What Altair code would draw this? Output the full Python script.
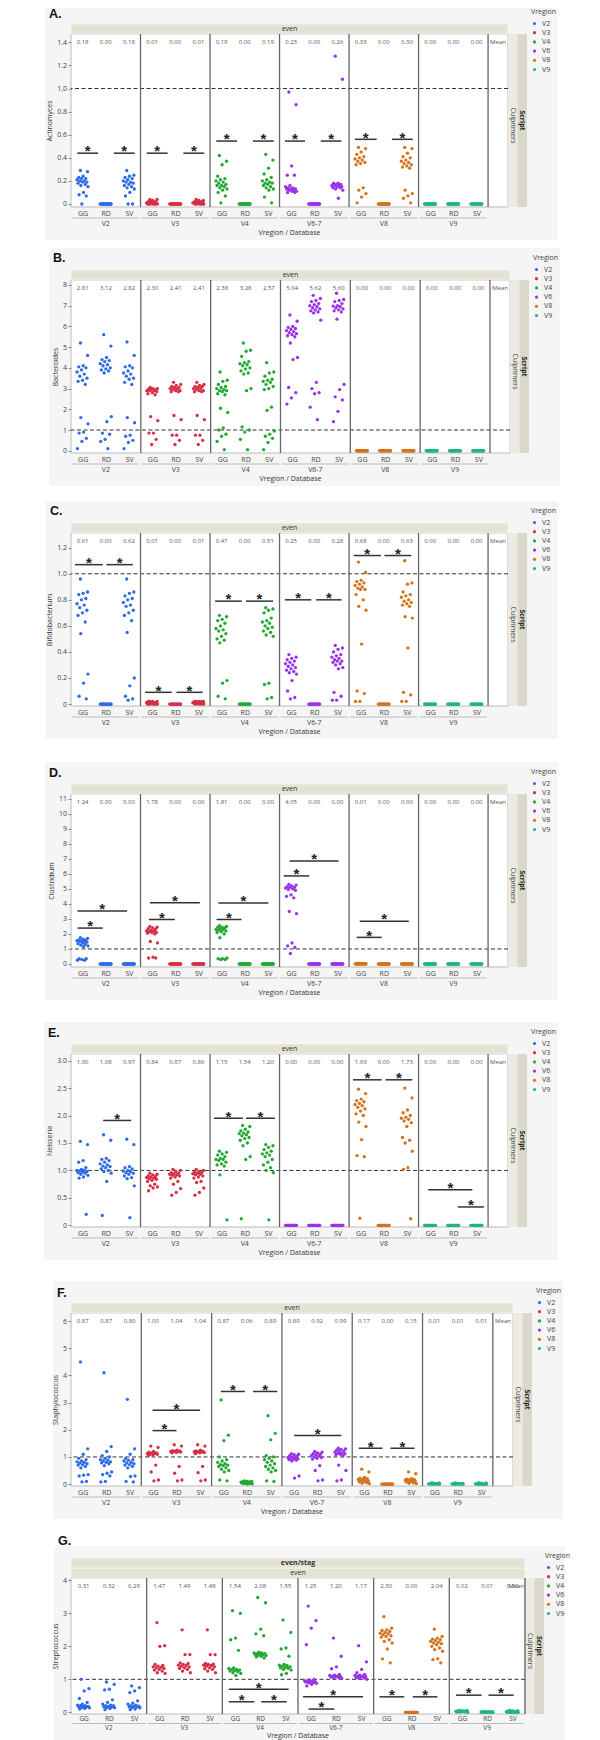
import altair as alt
import pandas as pd

FONT = "Open Sans"
DATABASES = ["GG", "RD", "SV"]
REGIONS = ["V2", "V3", "V4", "V6-7", "V8", "V9"]
LEGEND_NAMES = ["V2", "V3", "V4", "V6", "V8", "V9"]
COLORS = ["#2e6be6", "#d62f45", "#22a833", "#9a32ea", "#d4731b", "#1fb38a"]

Z = [0, 0, 0, 0, 0, 0, 0, 0, 0, 0, 0, 0, 0, 0, 0, 0, 0, 0]

# ---------------- A. Actinomyces ----------------
ACT_V2 = [[0.29, 0.28, 0.24, 0.23, 0.22, 0.22, 0.21, 0.20, 0.20, 0.19, 0.19, 0.18, 0.17, 0.16, 0.15, 0.10, 0.08, 0.07, 0.0],
          Z,
          [0.29, 0.25, 0.24, 0.23, 0.22, 0.21, 0.20, 0.19, 0.19, 0.18, 0.17, 0.16, 0.15, 0.14, 0.13, 0.10, 0.07, 0.0, 0.0]]
ACT_V3 = [[0.04, 0.04, 0.03, 0.02, 0.02, 0.02, 0.01, 0.01, 0.01, 0.01, 0.01, 0.0, 0.0, 0.0, 0.0, 0.0, 0.0, 0.0],
          Z,
          [0.04, 0.03, 0.03, 0.02, 0.02, 0.02, 0.01, 0.01, 0.01, 0.01, 0.01, 0.01, 0.0, 0.0, 0.0, 0.0, 0.0, 0.0]]
ACT_V4 = [[0.42, 0.37, 0.34, 0.24, 0.22, 0.21, 0.20, 0.19, 0.18, 0.17, 0.16, 0.16, 0.15, 0.14, 0.13, 0.12, 0.10, 0.07, 0.01],
          Z,
          [0.43, 0.38, 0.31, 0.26, 0.23, 0.21, 0.20, 0.19, 0.18, 0.18, 0.17, 0.16, 0.15, 0.14, 0.13, 0.12, 0.06, 0.01]]
ACT_V6 = [[0.97, 0.86, 0.33, 0.25, 0.25, 0.16, 0.15, 0.14, 0.14, 0.13, 0.13, 0.13, 0.12, 0.12, 0.11, 0.11, 0.10, 0.10],
          Z,
          [1.28, 1.08, 0.18, 0.18, 0.17, 0.17, 0.16, 0.16, 0.16, 0.15, 0.15, 0.14, 0.14, 0.13, 0.12, 0.05]]
ACT_V8 = [[0.49, 0.48, 0.45, 0.43, 0.41, 0.40, 0.39, 0.38, 0.37, 0.36, 0.35, 0.34, 0.14, 0.12, 0.09, 0.06, 0.01],
          Z,
          [0.49, 0.48, 0.44, 0.41, 0.40, 0.38, 0.37, 0.36, 0.35, 0.34, 0.33, 0.32, 0.31, 0.12, 0.09, 0.07, 0.05, 0.01]]
ACT_V9 = [Z, Z, Z]
ACT_MEAN = [[0.18, 0.00, 0.18], [0.01, 0.00, 0.01], [0.19, 0.00, 0.19], [0.23, 0.00, 0.26], [0.33, 0.00, 0.30], [0.00, 0.00, 0.00]]
ACT_SIG = [(0, -0.23, 0.67, 0.44), (0, 1.35, 2.25, 0.44), (1, -0.23, 0.67, 0.44), (1, 1.35, 2.25, 0.44),
           (2, -0.23, 0.67, 0.545), (2, 1.35, 2.25, 0.545), (3, -0.27, 0.60, 0.545), (3, 1.28, 2.17, 0.545),
           (4, -0.25, 0.69, 0.56), (4, 1.35, 2.25, 0.56)]

# ---------------- B. Bacteroides ----------------
BAC_V2 = [[5.2, 4.6, 4.1, 4.05, 4.0, 3.9, 3.8, 3.7, 3.6, 3.5, 3.4, 3.35, 3.2, 1.6, 1.3, 0.9, 0.85, 0.6, 0.45, 0.1],
          [5.6, 5.05, 4.5, 4.4, 4.35, 4.3, 4.2, 4.15, 4.1, 4.0, 3.95, 3.9, 3.85, 3.75, 1.65, 1.4, 0.85, 0.8, 0.55, 0.45, 0.1],
          [5.25, 4.6, 4.1, 4.05, 4.0, 3.85, 3.75, 3.7, 3.6, 3.5, 3.45, 3.3, 3.2, 1.6, 1.35, 0.75, 0.7, 0.5, 0.4, 0.1]]
BAC_V3 = [[3.05, 3.0, 3.0, 2.98, 2.95, 2.95, 2.9, 2.9, 2.9, 2.85, 2.8, 2.75, 2.7, 1.65, 1.45, 0.85, 0.85, 0.55, 0.3],
          [3.3, 3.2, 3.15, 3.1, 3.05, 3.05, 3.0, 3.0, 2.95, 2.9, 2.9, 2.85, 2.85, 1.7, 1.5, 0.75, 0.75, 0.5, 0.3],
          [3.3, 3.2, 3.15, 3.1, 3.1, 3.05, 3.0, 3.0, 2.95, 2.9, 2.9, 2.85, 2.85, 1.7, 1.5, 0.75, 0.75, 0.5, 0.3]]
BAC_V4 = [[3.8, 3.4, 3.35, 3.2, 3.1, 3.05, 3.0, 2.95, 2.9, 2.9, 2.85, 2.75, 2.7, 2.05, 1.85, 1.1, 1.0, 0.8, 0.7, 0.45, 0.05],
          [5.2, 4.85, 4.8, 4.55, 4.3, 4.25, 4.2, 4.15, 4.1, 4.0, 3.95, 3.85, 3.75, 3.7, 3.0, 2.9, 1.15, 1.0, 0.9, 0.55, 0.05],
          [4.25, 3.8, 3.75, 3.6, 3.45, 3.4, 3.35, 3.3, 3.2, 3.1, 3.0, 2.95, 2.1, 1.95, 0.95, 0.8, 0.7, 0.6, 0.4, 0.05]]
BAC_V6 = [[6.55, 6.25, 6.0, 5.95, 5.9, 5.85, 5.8, 5.75, 5.7, 5.65, 5.6, 5.55, 5.5, 5.2, 4.5, 4.4, 3.05, 2.8, 2.55, 2.25],
          [7.5, 7.35, 7.25, 7.2, 7.1, 7.05, 7.0, 6.95, 6.9, 6.85, 6.8, 6.75, 6.7, 6.65, 6.3, 3.3, 3.0, 2.8, 2.75, 2.1, 1.5],
          [7.6, 7.3, 7.25, 7.2, 7.1, 7.0, 6.98, 6.95, 6.9, 6.85, 6.8, 6.75, 6.7, 6.35, 3.2, 2.95, 2.6, 2.45, 1.9, 1.4]]
BAC_V8 = [Z, Z, Z]
BAC_V9 = [Z, Z, Z]
BAC_MEAN = [[2.81, 3.12, 2.82], [2.30, 2.41, 2.41], [2.38, 3.28, 2.57], [5.04, 5.62, 5.60], [0.00, 0.00, 0.00], [0.00, 0.00, 0.00]]
BAC_SIG = []

# ---------------- C. Bifidobacterium ----------------
BIF_V2 = [[0.96, 0.86, 0.85, 0.84, 0.81, 0.80, 0.77, 0.76, 0.74, 0.72, 0.70, 0.68, 0.63, 0.54, 0.23, 0.16, 0.06, 0.04],
          Z,
          [0.96, 0.86, 0.85, 0.83, 0.81, 0.80, 0.78, 0.76, 0.75, 0.72, 0.70, 0.68, 0.64, 0.55, 0.20, 0.14, 0.06, 0.04, 0.03]]
BIF_V3 = [[0.02, 0.02, 0.02, 0.02, 0.01, 0.01, 0.01, 0.01, 0.01, 0.01, 0.01, 0.0, 0.0, 0.0, 0.0, 0.0, 0.0, 0.0],
          Z,
          [0.02, 0.02, 0.02, 0.02, 0.02, 0.01, 0.01, 0.01, 0.01, 0.01, 0.01, 0.01, 0.0, 0.0, 0.0, 0.0, 0.0, 0.0]]
BIF_V4 = [[0.68, 0.67, 0.65, 0.64, 0.62, 0.60, 0.58, 0.57, 0.56, 0.54, 0.52, 0.50, 0.49, 0.47, 0.18, 0.16, 0.06, 0.04],
          Z,
          [0.74, 0.73, 0.72, 0.70, 0.66, 0.64, 0.63, 0.62, 0.60, 0.59, 0.58, 0.56, 0.55, 0.53, 0.52, 0.16, 0.15, 0.05, 0.04]]
BIF_V6 = [[0.38, 0.36, 0.35, 0.34, 0.33, 0.32, 0.31, 0.30, 0.29, 0.28, 0.27, 0.26, 0.25, 0.24, 0.23, 0.18, 0.10, 0.05, 0.04],
          Z,
          [0.45, 0.43, 0.42, 0.40, 0.38, 0.37, 0.36, 0.35, 0.34, 0.33, 0.33, 0.32, 0.31, 0.30, 0.28, 0.27, 0.09, 0.06, 0.03, 0.03]]
BIF_V8 = [[1.09, 1.01, 0.95, 0.94, 0.93, 0.92, 0.91, 0.90, 0.89, 0.88, 0.88, 0.84, 0.80, 0.75, 0.72, 0.46, 0.10, 0.08, 0.02, 0.02],
          Z,
          [1.10, 0.93, 0.92, 0.86, 0.84, 0.83, 0.82, 0.80, 0.79, 0.78, 0.77, 0.76, 0.75, 0.67, 0.66, 0.43, 0.09, 0.07, 0.02, 0.02]]
BIF_V9 = [Z, Z, Z]
BIF_MEAN = [[0.61, 0.00, 0.62], [0.01, 0.00, 0.01], [0.47, 0.00, 0.51], [0.25, 0.00, 0.28], [0.68, 0.00, 0.63], [0.00, 0.00, 0.00]]
BIF_SIG = [(0, -0.33, 0.87, 1.07), (0, 1.03, 2.17, 1.07), (1, -0.30, 0.85, 0.09), (1, 1.05, 2.18, 0.09),
           (2, -0.28, 0.87, 0.79), (2, 1.05, 2.22, 0.79), (3, -0.27, 0.87, 0.80), (3, 1.08, 2.18, 0.80),
           (4, -0.30, 0.87, 1.14), (4, 1.03, 2.19, 1.14)]

# ---------------- D. Clostridium ----------------
CLO_V2 = [[1.75, 1.7, 1.65, 1.6, 1.6, 1.55, 1.55, 1.5, 1.5, 1.45, 1.4, 1.35, 1.3, 1.25, 1.2, 1.15, 0.35, 0.35, 0.3, 0.25, 0.25],
          Z, Z]
CLO_V3 = [[2.5, 2.45, 2.4, 2.35, 2.3, 2.25, 2.2, 2.2, 2.15, 2.1, 2.1, 2.05, 2.0, 1.5, 1.4, 0.45, 0.4, 0.4],
          Z, Z]
CLO_V4 = [[2.55, 2.5, 2.45, 2.45, 2.4, 2.35, 2.3, 2.3, 2.25, 2.2, 2.15, 2.1, 2.0, 1.75, 0.4, 0.35, 0.35, 0.3, 0.3],
          Z, Z]
CLO_V6 = [[5.3, 5.25, 5.2, 5.15, 5.1, 5.1, 5.05, 5.0, 4.95, 4.9, 4.6, 4.5, 4.4, 3.5, 3.35, 1.4, 1.2, 1.1, 0.7],
          Z, Z]
CLO_V8 = [[0.05, 0.04, 0.03, 0.02, 0.02, 0.01, 0.01, 0.01, 0.0, 0.0, 0.0, 0.0, 0.0, 0.0, 0.0, 0.0, 0.0, 0.0],
          Z, Z]
CLO_V9 = [Z, Z, Z]
CLO_MEAN = [[1.24, 0.00, 0.00], [1.78, 0.00, 0.00], [1.81, 0.00, 0.00], [4.05, 0.00, 0.00], [0.01, 0.00, 0.00], [0.00, 0.00, 0.00]]
CLO_SIG = [(0, -0.22, 0.87, 2.39), (0, -0.22, 1.92, 3.52), (1, -0.14, 0.98, 2.96), (1, -0.09, 2.06, 4.07),
           (2, -0.22, 0.86, 2.96), (2, -0.14, 2.02, 4.05), (3, -0.32, 0.78, 5.86), (3, -0.07, 2.05, 6.86),
           (4, -0.17, 0.91, 1.77), (4, -0.04, 2.08, 2.85)]

# ---------------- E. Neisseria ----------------
NEI_V2 = [[1.53, 1.47, 1.18, 1.15, 1.05, 1.02, 1.0, 1.0, 0.99, 0.98, 0.97, 0.96, 0.95, 0.93, 0.91, 0.88, 0.86, 0.2],
          [1.65, 1.55, 1.22, 1.2, 1.18, 1.15, 1.12, 1.1, 1.08, 1.07, 1.05, 1.03, 1.0, 0.98, 0.95, 0.8, 0.18],
          [1.57, 1.47, 1.07, 1.05, 1.03, 1.0, 0.99, 0.98, 0.96, 0.95, 0.93, 0.9, 0.87, 0.85, 0.72, 0.14]]
NEI_V3 = [[0.95, 0.93, 0.92, 0.9, 0.89, 0.88, 0.87, 0.86, 0.85, 0.84, 0.82, 0.8, 0.75, 0.72, 0.7, 0.68, 0.63],
          [1.02, 1.0, 0.98, 0.96, 0.95, 0.94, 0.93, 0.92, 0.91, 0.9, 0.88, 0.86, 0.8, 0.75, 0.67, 0.6, 0.55],
          [1.02, 1.0, 0.98, 0.97, 0.96, 0.95, 0.94, 0.93, 0.92, 0.9, 0.88, 0.86, 0.8, 0.78, 0.68, 0.6, 0.55]]
NEI_V4 = [[1.35, 1.33, 1.3, 1.28, 1.25, 1.22, 1.2, 1.2, 1.18, 1.15, 1.12, 1.1, 1.08, 0.92, 0.1],
          [1.82, 1.8, 1.75, 1.72, 1.7, 1.68, 1.67, 1.65, 1.63, 1.6, 1.58, 1.55, 1.5, 1.45, 1.25, 1.2, 0.12],
          [1.47, 1.45, 1.42, 1.38, 1.35, 1.32, 1.3, 1.28, 1.25, 1.2, 1.15, 1.1, 1.05, 1.0, 0.96, 0.1]]
NEI_V6 = [Z, Z, Z]
NEI_V8 = [[2.48, 2.4, 2.3, 2.27, 2.25, 2.22, 2.2, 2.18, 2.15, 2.12, 2.08, 2.03, 2.0, 1.88, 1.8, 1.56, 1.27, 1.25, 0.13],
          Z,
          [2.5, 2.32, 2.1, 2.05, 2.0, 1.97, 1.95, 1.93, 1.9, 1.87, 1.8, 1.6, 1.55, 1.5, 1.35, 1.05, 1.02, 0.12]]
NEI_V9 = [Z, Z, Z]
NEI_MEAN = [[1.00, 1.08, 0.97], [0.84, 0.87, 0.86], [1.15, 1.54, 1.20], [0.00, 0.00, 0.00], [1.93, 0.00, 1.73], [0.00, 0.00, 0.00]]
NEI_SIG = [(0, 0.89, 2.10, 1.91), (2, -0.33, 0.92, 1.95), (2, 1.05, 2.30, 1.95), (4, -0.33, 0.91, 2.65),
           (4, 1.07, 2.23, 2.65), (5, -0.08, 1.82, 0.65), (5, 1.20, 2.32, 0.335)]

# ---------------- F. Staphylococcus ----------------
STA_V2 = [[4.5, 1.3, 1.1, 0.95, 0.9, 0.85, 0.82, 0.8, 0.78, 0.75, 0.72, 0.7, 0.65, 0.6, 0.35, 0.33, 0.3, 0.1, 0.08],
          [4.1, 1.38, 1.2, 1.05, 1.0, 0.95, 0.9, 0.88, 0.85, 0.82, 0.8, 0.78, 0.75, 0.68, 0.45, 0.4, 0.35, 0.3, 0.1, 0.08],
          [3.12, 1.3, 1.1, 0.95, 0.9, 0.88, 0.85, 0.8, 0.78, 0.75, 0.72, 0.7, 0.65, 0.6, 0.3, 0.28, 0.1, 0.08]]
STA_V3 = [[1.4, 1.35, 1.2, 1.18, 1.15, 1.15, 1.13, 1.12, 1.1, 1.1, 1.08, 1.05, 0.7, 0.45, 0.15, 0.12],
          [1.45, 1.4, 1.25, 1.23, 1.22, 1.21, 1.2, 1.2, 1.19, 1.18, 1.17, 1.15, 0.65, 0.4, 0.15, 0.12],
          [1.45, 1.4, 1.25, 1.22, 1.2, 1.2, 1.19, 1.18, 1.17, 1.16, 1.15, 1.12, 0.65, 0.42, 0.15, 0.12]]
STA_V4 = [[3.1, 1.8, 1.6, 1.0, 0.9, 0.85, 0.8, 0.75, 0.72, 0.7, 0.68, 0.65, 0.6, 0.55, 0.5, 0.45, 0.15, 0.12],
          [0.12, 0.1, 0.1, 0.09, 0.08, 0.08, 0.07, 0.06, 0.05, 0.05, 0.04, 0.03, 0.02, 0.02, 0.01, 0.0],
          [2.52, 1.87, 1.63, 1.05, 1.0, 0.95, 0.9, 0.85, 0.8, 0.75, 0.7, 0.65, 0.6, 0.55, 0.5, 0.45, 0.12, 0.1]]
STA_V6 = [[1.12, 1.1, 1.08, 1.05, 1.03, 1.0, 0.98, 0.97, 0.95, 0.93, 0.92, 0.9, 0.88, 0.85, 0.3, 0.22],
          [1.2, 1.18, 1.15, 1.12, 1.1, 1.08, 1.05, 1.03, 1.0, 0.98, 0.95, 0.92, 0.68, 0.5, 0.15, 0.12],
          [1.32, 1.3, 1.28, 1.25, 1.22, 1.2, 1.18, 1.15, 1.13, 1.12, 1.1, 1.08, 1.05, 0.7, 0.5, 0.15, 0.12]]
STA_V8 = [[0.55, 0.45, 0.25, 0.22, 0.2, 0.18, 0.17, 0.15, 0.14, 0.12, 0.1, 0.08, 0.05, 0.03, 0.02],
          Z,
          [0.45, 0.38, 0.2, 0.18, 0.17, 0.16, 0.15, 0.14, 0.13, 0.12, 0.1, 0.08, 0.05, 0.03, 0.02]]
STA_V9 = [[0.05, 0.04, 0.03, 0.02, 0.02, 0.01, 0.01, 0.01, 0.01, 0.0, 0.0, 0.0, 0.0, 0.0, 0.0],
          [0.04, 0.03, 0.03, 0.02, 0.01, 0.01, 0.01, 0.01, 0.0, 0.0, 0.0, 0.0, 0.0, 0.0, 0.0],
          [0.05, 0.04, 0.03, 0.02, 0.01, 0.01, 0.01, 0.0, 0.0, 0.0, 0.0, 0.0, 0.0, 0.0, 0.0]]
STA_MEAN = [[0.87, 0.87, 0.80], [1.00, 1.04, 1.04], [0.87, 0.06, 0.89], [0.89, 0.92, 0.99], [0.17, 0.00, 0.15], [0.01, 0.01, 0.01]]
STA_SIG = [(1, -0.02, 1.00, 1.97), (1, -0.02, 2.01, 2.72), (2, -0.11, 0.92, 3.41), (2, 1.27, 2.30, 3.41),
           (3, 0.02, 2.04, 1.79), (4, -0.22, 0.79, 1.32), (4, 1.13, 2.16, 1.32)]

# ---------------- G. Streptococcus ----------------
STR_V2 = [[1.0, 0.72, 0.65, 0.42, 0.3, 0.25, 0.22, 0.2, 0.2, 0.18, 0.18, 0.17, 0.16, 0.15, 0.14, 0.12, 0.1],
          [0.92, 0.85, 0.7, 0.68, 0.38, 0.3, 0.25, 0.22, 0.2, 0.2, 0.18, 0.17, 0.16, 0.15, 0.14, 0.12, 0.08],
          [0.8, 0.75, 0.65, 0.6, 0.35, 0.28, 0.25, 0.22, 0.2, 0.19, 0.18, 0.17, 0.16, 0.15, 0.14, 0.1, 0.08]]
STR_V3 = [[2.72, 2.02, 2.0, 1.45, 1.42, 1.4, 1.38, 1.36, 1.35, 1.33, 1.3, 1.28, 1.25, 1.2, 1.18],
          [2.5, 1.75, 1.75, 1.5, 1.48, 1.45, 1.43, 1.42, 1.4, 1.38, 1.35, 1.33, 1.3, 1.25, 1.2],
          [2.5, 1.75, 1.75, 1.48, 1.46, 1.45, 1.43, 1.42, 1.4, 1.38, 1.35, 1.32, 1.3, 1.25, 1.2]]
STR_V4 = [[3.08, 3.0, 2.25, 2.2, 1.88, 1.35, 1.33, 1.3, 1.3, 1.28, 1.27, 1.25, 1.23, 1.2, 1.18, 1.12],
          [3.48, 3.32, 2.52, 2.38, 2.32, 1.82, 1.8, 1.8, 1.78, 1.78, 1.77, 1.75, 1.75, 1.73, 1.72, 1.7, 1.68, 1.65],
          [2.8, 2.42, 1.95, 1.92, 1.7, 1.45, 1.43, 1.42, 1.4, 1.38, 1.36, 1.35, 1.33, 1.3, 1.28, 1.18, 1.14]]
STR_V6 = [[3.22, 2.78, 2.55, 2.05, 1.0, 0.98, 0.96, 0.95, 0.94, 0.93, 0.92, 0.92, 0.9, 0.9, 0.88, 0.85, 0.8],
          [2.25, 1.7, 1.38, 1.32, 1.15, 1.13, 1.12, 1.1, 1.1, 1.09, 1.08, 1.07, 1.05, 1.05, 1.03],
          [2.02, 1.53, 1.3, 1.2, 1.15, 1.13, 1.12, 1.1, 1.1, 1.08, 1.07, 1.05, 1.04, 1.03, 1.0]]
STR_V8 = [[2.9, 2.55, 2.5, 2.48, 2.45, 2.42, 2.4, 2.38, 2.35, 2.32, 2.3, 2.28, 2.2, 2.15, 2.1, 1.92, 1.62, 1.5],
          Z,
          [2.52, 2.3, 2.25, 2.22, 2.2, 2.18, 2.15, 2.12, 2.1, 2.08, 2.05, 2.0, 1.95, 1.9, 1.85, 1.62, 1.6, 1.5]]
STR_V9 = [[0.06, 0.05, 0.05, 0.04, 0.04, 0.03, 0.03, 0.03, 0.02, 0.02, 0.02, 0.01, 0.01, 0.01, 0.0],
          [0.03, 0.02, 0.02, 0.02, 0.01, 0.01, 0.01, 0.01, 0.01, 0.0, 0.0, 0.0, 0.0, 0.0, 0.0],
          [0.06, 0.05, 0.04, 0.04, 0.03, 0.02, 0.02, 0.01, 0.01, 0.0, 0.0, 0.0, 0.0, 0.0, 0.0]]
STR_MEAN = [[0.31, 0.32, 0.29], [1.47, 1.49, 1.48], [1.54, 2.08, 1.55], [1.25, 1.20, 1.17], [2.30, 0.00, 2.04], [0.02, 0.01, 0.00]]
STR_SIG = [(2, -0.24, 2.13, 0.70), (2, -0.24, 0.77, 0.32), (2, 1.04, 2.05, 0.32), (3, -0.30, 2.08, 0.47),
           (3, -0.08, 0.94, 0.10), (4, -0.27, 0.71, 0.47), (4, 1.05, 2.03, 0.47), (5, -0.24, 0.78, 0.52),
           (5, 1.05, 2.05, 0.52)]

STRIP = "#e3e2d4"
STRIP_LIGHT = "#ecebe3"
STRIP_DARK = "#d9d8ca"
BOX = "#f5f5f5"


def panel(letter, genus, groups, means, sigs, ydom, yticks, decimal, W, H, off, gap,
          letter_y, meancol=True, strips=(("even", False),), legx=23, box_right=50,
          bot=(2.5, 11, 17, 26), xfs=7):
    xmax = 17.5 + (0.86 if meancol else 0.0)
    xs = alt.Scale(domain=[-0.5, xmax], nice=False, zero=False)
    ys = alt.Scale(domain=ydom, nice=False, zero=False)
    one = pd.DataFrame({"k": [0]})

    rows = []
    for ri, grp in enumerate(groups):
        for di, vals in enumerate(grp):
            for k, v in enumerate(vals):
                rows.append(dict(ri=ri, di=di, k=k, leg=LEGEND_NAMES[ri], value=v))
    pts = pd.DataFrame(rows)
    mdf = pd.DataFrame([dict(ri=ri, di=di, mean=m) for ri, row in enumerate(means) for di, m in enumerate(row)])
    sdf = pd.DataFrame(list(sigs), columns=["ri", "x1", "x2", "y"])
    rdf = pd.DataFrame({"ri": list(range(len(REGIONS))), "name": REGIONS})

    lab = "datum.value == 0 ? '0' : format(datum.value, '.1f')" if decimal else "format(datum.value, 'd')"
    yaxis = alt.Axis(values=yticks, labelExpr=lab, title=genus, grid=False, domain=False, tickSize=3,
                     tickColor="#888", labelFontSize=7, labelColor="#444", labelPadding=1.5,
                     titleFontSize=7, titleFontWeight="normal", titleColor="#333", titlePadding=4,
                     labelFont=FONT, titleFont=FONT, labelFlush=False, zindex=2)
    xaxis = alt.Axis(values=list(range(18)),
                     labelExpr="datum.value % 3 == 0 ? 'GG' : (datum.value % 3 == 1 ? 'RD' : 'SV')",
                     title=None, grid=False, domain=False, ticks=False, labelFontSize=xfs, labelColor="#444",
                     labelPadding=bot[0], labelFont=FONT, labelFlush=False, labelOverlap=False, zindex=2)
    legend = alt.Legend(orient="none", legendX=W + legx, legendY=-26, title="Vregion", titleFontSize=7,
                        titleFontWeight="normal", titleColor="#444", labelFontSize=7, labelColor="#444",
                        symbolSize=10, symbolType="circle", rowPadding=1.2, titlePadding=5, labelOffset=4,
                        symbolStrokeWidth=0, titleFont=FONT, labelFont=FONT, zindex=2)
    cs = alt.Scale(domain=LEGEND_NAMES, range=COLORS)

    def X(f):
        return alt.X(f, type="quantitative", scale=xs, axis=xaxis)

    def Y(f):
        return alt.Y(f, type="quantitative", scale=ys, axis=yaxis)

    layers = []
    # spacing guard (transparent) and gray panel box
    layers.append(alt.Chart(one).mark_rect(fill="white", opacity=0).encode(
        x=alt.value(-off), x2=alt.value(-off + 2), y=alt.value(-gap), y2=alt.value(-32)))
    layers.append(alt.Chart(one).mark_rect(fill=BOX).encode(
        x=alt.value(-off), x2=alt.value(W + box_right), y=alt.value(-32), y2=alt.value(H + 33)))
    # white plot area
    layers.append(alt.Chart(one).mark_rect(fill="white", stroke="#bbbbbb", strokeWidth=1).encode(
        x=alt.value(0), x2=alt.value(W), y=alt.value(0), y2=alt.value(H)))
    # top strips
    for i, (txt, bold) in enumerate(reversed(strips)):
        top = -10 * (i + 1)
        layers.append(alt.Chart(one).mark_rect(fill=STRIP, stroke="white", strokeWidth=0.5).encode(
            x=alt.value(0), x2=alt.value(W), y=alt.value(top), y2=alt.value(top + 10)))
        layers.append(alt.Chart(one).mark_text(text=txt, font=FONT, fontSize=7, color="#333",
                                               fontWeight="bold" if bold else "normal", baseline="middle").encode(
            x=alt.value(W / 2), y=alt.value(top + 5)))
    # right strips
    layers.append(alt.Chart(one).mark_rect(fill=STRIP_LIGHT).encode(
        x=alt.value(W), x2=alt.value(W + 9.5), y=alt.value(0), y2=alt.value(H)))
    layers.append(alt.Chart(one).mark_rect(fill=STRIP_DARK).encode(
        x=alt.value(W + 9.5), x2=alt.value(W + 19), y=alt.value(0), y2=alt.value(H)))
    layers.append(alt.Chart(one).mark_text(text="Culprimers", font=FONT, fontSize=7, color="#444",
                                           angle=90, baseline="middle").encode(
        x=alt.value(W + 4.75), y=alt.value(H / 2 + 5)))
    layers.append(alt.Chart(one).mark_text(text="Script", font=FONT, fontSize=7, color="#222",
                                           fontWeight="bold", angle=90, baseline="middle").encode(
        x=alt.value(W + 14.25), y=alt.value(H / 2)))
    # reference line at 1
    layers.append(alt.Chart(pd.DataFrame({"ref": [1.0]})).mark_rule(
        strokeDash=[4, 2.5], color="#333", strokeWidth=1).encode(y=Y("ref")))
    # region separators
    layers.append(alt.Chart(rdf).transform_calculate(sx="datum.ri * 3 + 2.5").mark_rule(
        color="#666", strokeWidth=1.3).encode(x=X("sx"), y=alt.value(0), y2=alt.value(H)))
    # points
    layers.append(alt.Chart(pts).transform_calculate(
        xj="datum.ri * 3 + datum.di + (((datum.k * 0.618034 + 0.31) % 1) - 0.5) * 0.5"
    ).mark_circle(size=11, opacity=1).encode(
        x=X("xj"), y=Y("value"),
        color=alt.Color("leg:N", scale=cs, legend=legend)))
    # significance bars and stars
    if len(sdf):
        sig = alt.Chart(sdf).transform_calculate(
            gx1="datum.ri * 3 + datum.x1", gx2="datum.ri * 3 + datum.x2",
            gm="datum.ri * 3 + (datum.x1 + datum.x2) / 2")
        layers.append(sig.mark_rule(color="#333", strokeWidth=1.5).encode(
            x=X("gx1"), x2="gx2:Q", y=Y("y")))
        layers.append(sig.mark_text(text="*", font="Liberation Sans", fontSize=15, fontWeight="bold",
                                    color="#222", baseline="alphabetic", dy=3.3).encode(
            x=X("gm"), y=Y("y")))
    # mean texts
    layers.append(alt.Chart(mdf).transform_calculate(mx="datum.ri * 3 + datum.di").mark_text(
        font=FONT, fontSize=6, color="#555", baseline="middle").encode(
        x=X("mx"), y=alt.value(7.5), text=alt.Text("mean:Q", format=".2f")))
    if meancol:
        layers.append(alt.Chart(one).mark_text(text="Mean", font=FONT, fontSize=6, color="#555",
                                               baseline="middle").encode(
            x=alt.value(W - 10), y=alt.value(7.5)))
    else:
        layers.append(alt.Chart(one).mark_text(text="Mean", font=FONT, fontSize=6, color="#555",
                                               baseline="middle", align="right").encode(
            x=alt.value(W - 1), y=alt.value(7.5)))
    # region labels, brackets, axis title
    reg = alt.Chart(rdf).transform_calculate(
        rc="datum.ri * 3 + 1", bx1="datum.ri * 3 - 0.45", bx2="datum.ri * 3 + 2.45")
    layers.append(reg.mark_rule(color="#bbbbbb", strokeWidth=1).encode(
        x=X("bx1"), x2="bx2:Q", y=alt.value(H + bot[1])))
    layers.append(reg.mark_text(font=FONT, fontSize=xfs, color="#444", baseline="middle").encode(
        x=X("rc"), y=alt.value(H + bot[2]), text="name:N"))
    layers.append(alt.Chart(one).mark_text(text="Vregion / Database", font=FONT, fontSize=7, color="#333",
                                           baseline="middle").encode(
        x=alt.value(W / 2), y=alt.value(H + bot[3])))
    # panel letter
    layers.append(alt.Chart(one).mark_text(text=letter, font="Liberation Sans", fontSize=12.5,
                                           fontWeight="bold", color="#111", align="left",
                                           baseline="alphabetic").encode(
        x=alt.value(-off + 4), y=alt.value(letter_y)))

    return alt.layer(*layers).properties(width=W, height=H)


T_A = [0, 0.2, 0.4, 0.6, 0.8, 1.0, 1.2, 1.4]
T_B = [0, 1, 2, 3, 4, 5, 6, 7, 8]
T_C = [0, 0.2, 0.4, 0.6, 0.8, 1.0, 1.2]
T_D = [0, 1, 2, 3, 4, 5, 6, 7, 8, 9, 10, 11]
T_E = [0, 0.5, 1.0, 1.5, 2.0, 2.5, 3.0]
T_F = [0, 1, 2, 3, 4, 5, 6]
T_G = [0, 1, 2, 3, 4]

pA = panel("A.", "Actinomyces", [ACT_V2, ACT_V3, ACT_V4, ACT_V6, ACT_V8, ACT_V9], ACT_MEAN, ACT_SIG,
           [-0.026, 1.472], T_A, True, 437, 173, 26, 32, -16)
pB = panel("B.", "Bacteroides", [BAC_V2, BAC_V3, BAC_V4, BAC_V6, BAC_V8, BAC_V9], BAC_MEAN, BAC_SIG,
           [-0.11, 8.24], T_B, False, 439, 173, 22, 40, -18)
pC = panel("C.", "Bifidobacterium", [BIF_V2, BIF_V3, BIF_V4, BIF_V6, BIF_V8, BIF_V9], BIF_MEAN, BIF_SIG,
           [-0.015, 1.313], T_C, True, 437, 173, 25, 46.7, -18)
pD = panel("D.", "Clostridium", [CLO_V2, CLO_V3, CLO_V4, CLO_V6, CLO_V8, CLO_V9], CLO_MEAN, CLO_SIG,
           [-0.2, 11.31], T_D, False, 437, 173, 26, 54.6, -17)
pE = panel("E.", "Neisseria", [NEI_V2, NEI_V3, NEI_V4, NEI_V6, NEI_V8, NEI_V9], NEI_MEAN, NEI_SIG,
           [-0.03, 3.12], T_E, True, 437, 173, 27, 53.4, -17)
pF = panel("F.", "Staphylococcus", [STA_V2, STA_V3, STA_V4, STA_V6, STA_V8, STA_V9], STA_MEAN, STA_SIG,
           [-0.07, 6.30], T_F, False, 442, 173, 18, 52.3, -16)
pG = panel("G.", "Streptococcus", [STR_V2, STR_V3, STR_V4, STR_V6, STR_V8, STR_V9], STR_MEAN, STR_SIG,
           [-0.05, 4.07], T_G, False, 454, 136, 17, 59, -33, meancol=False,
           strips=(("even/stag", True), ("even", False)), legx=20, box_right=40,
           bot=(1.5, 9.5, 13.5, 21.5), xfs=6.5)

chart = alt.vconcat(pA, pB, pC, pD, pE, pF, pG, spacing=0).resolve_scale(
    color="independent").properties(
    padding={"left": 36, "top": -6, "right": 4, "bottom": 0}
).configure_view(strokeWidth=0)

chart.save("out.html", embed_options={"renderer": "svg", "actions": False})
